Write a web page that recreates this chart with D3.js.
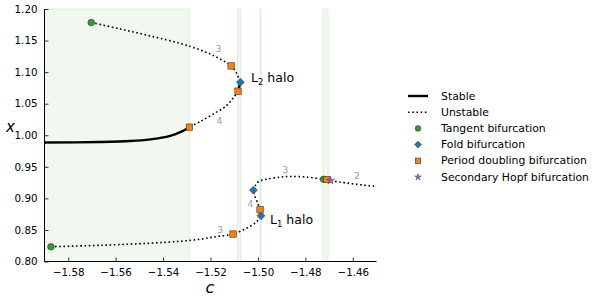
<!DOCTYPE html>
<html>
<head>
<meta charset="utf-8">
<script src="https://cdn.jsdelivr.net/npm/d3@7"></script>
<style>
  body { margin: 0; background: #fff; }
  svg { font-family: "DejaVu Sans", sans-serif; }
</style>
</head>
<body>
<script>
'use strict';

// branches: c values and x values
const l2UpperC = [-1.5703, -1.5581, -1.5454, -1.5327, -1.5243, -1.5180, -1.5113, -1.5091, -1.5074];
const l2UpperX = [1.1786, 1.1684, 1.1573, 1.1454, 1.1351, 1.1248, 1.1098, 1.0987, 1.0840];
const l2TipC = [-1.5074, -1.5084];
const l2TipX = [1.0840, 1.0698];
const l2LowerC = [-1.5084, -1.5104, -1.5134, -1.5187, -1.5243, -1.5289];
const l2LowerX = [1.0698, 1.0592, 1.0465, 1.0339, 1.0217, 1.0128];
const stableC = [-1.5289, -1.5330, -1.5370, -1.5454, -1.5538, -1.5665, -1.5900];
const stableX = [1.0128, 1.0045, 0.9991, 0.9935, 0.9908, 0.9893, 0.9884];

const l1BottomC = [-1.5873, -1.5665, -1.5454, -1.5327, -1.5243, -1.5180, -1.5105, -1.5046, -1.5004, -1.4987];
const l1BottomX = [0.8234, 0.8257, 0.8290, 0.8321, 0.8353, 0.8392, 0.8435, 0.8530, 0.8635, 0.8725];
const l1TipC = [-1.4987, -1.4991];
const l1TipX = [0.8725, 0.8820];
const l1MidC = [-1.4991, -1.5001, -1.5013, -1.5019, -1.5010, -1.4997, -1.4962, -1.4905, -1.4863, -1.4793, -1.4723];
const l1MidX = [0.8820, 0.8926, 0.9030, 0.9131, 0.9210, 0.9267, 0.9305, 0.9337, 0.9347, 0.9337, 0.9302];
const l1KnotC = [-1.4723, -1.4709];
const l1KnotX = [0.9302, 0.9299];
const l1TailC = [-1.4709, -1.4694, -1.4624, -1.4492];
const l1TailX = [0.9299, 0.9282, 0.9242, 0.9184];

// bifurcation points
const tangentC = [-1.5703, -1.5873, -1.4723];
const tangentX = [1.1786, 0.8234, 0.9302];
const foldC = [-1.5074, -1.4987, -1.5019];
const foldX = [1.0840, 0.8725, 0.9131];
const pdC = [-1.5113, -1.5084, -1.5289, -1.5105, -1.4991, -1.4709];
const pdX = [1.1098, 1.0698, 1.0128, 0.8435, 0.8820, 0.9299];
const hopfC = [-1.4694];
const hopfX = [0.9282];

// c ranges with a stable orbit
const bandFrom = [-1.5900, -1.5086, -1.4992, -1.4726];
const bandTo = [-1.5289, -1.5072, -1.4986, -1.4704];

// period labels
const periodText = ['3', '4', '3', '2', '4', '3'];
const periodC = [-1.5167, -1.5163, -1.4884, -1.4582, -1.5032, -1.5159];
const periodX = [1.1368, 1.0228, 0.9453, 0.9347, 0.8915, 0.8503];

const xTicks = [-1.58, -1.56, -1.54, -1.52, -1.50, -1.48, -1.46];
const yTicks = [0.80, 0.85, 0.90, 0.95, 1.00, 1.05, 1.10, 1.15, 1.20];

const legendNames = ['Stable', 'Unstable', 'Tangent bifurcation', 'Fold bifurcation',
  'Period doubling bifurcation', 'Secondary Hopf bifurcation'];

const colors = {
  tangent: '#2ca02c',
  fold: '#1f77b4',
  pd: '#ff7f0e',
  hopf: '#9467bd'
};

const svg = d3.select('body').append('svg')
  .attr('width', 595)
  .attr('height', 298);

const xScale = d3.scaleLinear().domain([-1.59, -1.45]).range([44.5, 376.5]);
const yScale = d3.scaleLinear().domain([0.80, 1.20]).range([261.5, 9]);

svg.append('clipPath').attr('id', 'plotclip')
  .append('rect')
  .attr('x', 44.5).attr('y', 9)
  .attr('width', 332).attr('height', 252.5);

// shaded stable ranges
const bands = svg.append('g');
bandFrom.forEach((c0, i) => {
  const x0 = xScale(c0), x1 = xScale(bandTo[i]);
  bands.append('rect')
    .attr('x', x0).attr('y', yScale(1.2))
    .attr('width', x1 - x0).attr('height', yScale(0.8) - yScale(1.2))
    .attr('fill', 'rgb(44,160,44)')
    .attr('fill-opacity', 0.07)
    .attr('stroke', 'rgb(44,160,44)')
    .attr('stroke-opacity', 0.12)
    .attr('stroke-width', 1);
});

// axes
const xAxis = d3.axisBottom(xScale).tickValues(xTicks)
  .tickSize(-4).tickPadding(7)
  .tickFormat(d => d3.format('.2f')(d).replace('-', '\u2212'));
const gx = svg.append('g').attr('transform', 'translate(0,261.5)').call(xAxis);

const yAxis = d3.axisLeft(yScale).tickValues(yTicks)
  .tickSize(-4).tickPadding(7)
  .tickFormat(d3.format('.2f'));
const gy = svg.append('g').attr('transform', 'translate(44.5,0)').call(yAxis);

[gx, gy].forEach(g => {
  g.selectAll('text').attr('font-size', 10.3).attr('fill', '#000')
    .attr('font-family', '"DejaVu Sans", sans-serif');
  g.selectAll('line').attr('stroke', '#000').attr('stroke-width', 0.8);
  g.select('.domain').attr('stroke', '#000').attr('stroke-width', 1);
});
gx.select('.domain').attr('d', 'M44.5,0H376.5');
gy.select('.domain').attr('d', 'M0,261.5V9');

// branches
const line = d3.line()
  .x(d => xScale(d[0]))
  .y(d => yScale(d[1]))
  .curve(d3.curveCatmullRom.alpha(0.5));

const plot = svg.append('g').attr('clip-path', 'url(#plotclip)');

function drawBranch(cs, xs, stable) {
  const pts = cs.map((c, i) => [c, xs[i]]);
  const p = plot.append('path')
    .attr('d', line(pts))
    .attr('fill', 'none')
    .attr('stroke', '#000');
  if (stable) {
    p.attr('stroke-width', 2.4);
  } else {
    p.attr('stroke-width', 1.6).attr('stroke-dasharray', '1.6,2.6');
  }
}

drawBranch(l2UpperC, l2UpperX, false);
drawBranch(l2TipC, l2TipX, true);
drawBranch(l2LowerC, l2LowerX, false);
drawBranch(stableC, stableX, true);
drawBranch(l1BottomC, l1BottomX, false);
drawBranch(l1TipC, l1TipX, true);
drawBranch(l1MidC, l1MidX, false);
drawBranch(l1KnotC, l1KnotX, true);
drawBranch(l1TailC, l1TailX, false);

// period labels
periodText.forEach((t, i) => {
  svg.append('text')
    .attr('x', xScale(periodC[i]))
    .attr('y', yScale(periodX[i]))
    .attr('text-anchor', 'middle')
    .attr('dominant-baseline', 'central')
    .attr('font-size', 9)
    .attr('fill', '#999')
    .text(t);
});

// markers
const edge = '#333';
function marker(g, type, x, y, s) {
  s = s || 1;
  if (type === 'tangent') {
    g.append('circle').attr('cx', x).attr('cy', y).attr('r', 3.3 * s)
      .attr('fill', colors.tangent).attr('stroke', edge).attr('stroke-width', 0.6);
  } else if (type === 'fold') {
    g.append('path').attr('d', d3.symbol(d3.symbolDiamond2, 40 * s * s)())
      .attr('transform', `translate(${x},${y})`)
      .attr('fill', colors.fold).attr('stroke', edge).attr('stroke-width', 0.6);
  } else if (type === 'pd') {
    const h = 3.2 * s;
    g.append('rect').attr('x', x - h).attr('y', y - h).attr('width', 2 * h).attr('height', 2 * h)
      .attr('fill', colors.pd).attr('stroke', edge).attr('stroke-width', 0.6);
  } else {
    g.append('path').attr('d', d3.symbol(d3.symbolStar, 20 * s * s)())
      .attr('transform', `translate(${x},${y})`)
      .attr('fill', colors.hopf).attr('stroke', edge).attr('stroke-width', 0.4);
  }
}

const marks = svg.append('g');
tangentC.forEach((c, i) => marker(marks, 'tangent', xScale(c), yScale(tangentX[i])));
foldC.forEach((c, i) => marker(marks, 'fold', xScale(c), yScale(foldX[i])));
pdC.forEach((c, i) => marker(marks, 'pd', xScale(c), yScale(pdX[i])));
hopfC.forEach((c, i) => marker(marks, 'hopf', xScale(c), yScale(hopfX[i])));

// halo labels
const l2 = svg.append('text').attr('x', 251).attr('y', 81.5).attr('font-size', 12.5).attr('fill', '#000');
l2.append('tspan').text('L');
l2.append('tspan').attr('font-size', 8.5).attr('dy', 3).text('2');
l2.append('tspan').attr('dy', -3).text(' halo');

const l1 = svg.append('text').attr('x', 270).attr('y', 223.5).attr('font-size', 12.5).attr('fill', '#000');
l1.append('tspan').text('L');
l1.append('tspan').attr('font-size', 8.5).attr('dy', 3).text('1');
l1.append('tspan').attr('dy', -3).text(' halo');

// axis labels
svg.append('text').attr('x', 10.5).attr('y', 131.5)
  .attr('text-anchor', 'middle')
  .attr('font-size', 15).attr('font-style', 'italic').text('x');
svg.append('text').attr('x', 210).attr('y', 293)
  .attr('text-anchor', 'middle')
  .attr('font-size', 16).attr('font-style', 'italic').text('c');

// legend
const legend = svg.append('g');
const legTop = 96, legStep = 16.2, handleX0 = 408, handleX1 = 428, textX = 441;
legendNames.forEach((name, i) => {
  const y = legTop + i * legStep;
  if (i === 0) {
    legend.append('line').attr('x1', handleX0).attr('x2', handleX1)
      .attr('y1', y).attr('y2', y).attr('stroke', '#000').attr('stroke-width', 2.4);
  } else if (i === 1) {
    legend.append('line').attr('x1', handleX0).attr('x2', handleX1)
      .attr('y1', y).attr('y2', y).attr('stroke', '#000').attr('stroke-width', 1.6)
      .attr('stroke-dasharray', '1.6,2.6');
  } else {
    const types = ['tangent', 'fold', 'pd', 'hopf'];
    marker(legend, types[i - 2], (handleX0 + handleX1) / 2, y, 0.85);
  }
  legend.append('text')
    .attr('x', textX).attr('y', y)
    .attr('dominant-baseline', 'central')
    .attr('font-size', 10.85)
    .attr('fill', '#000')
    .text(name);
});
</script>
</body>
</html>
